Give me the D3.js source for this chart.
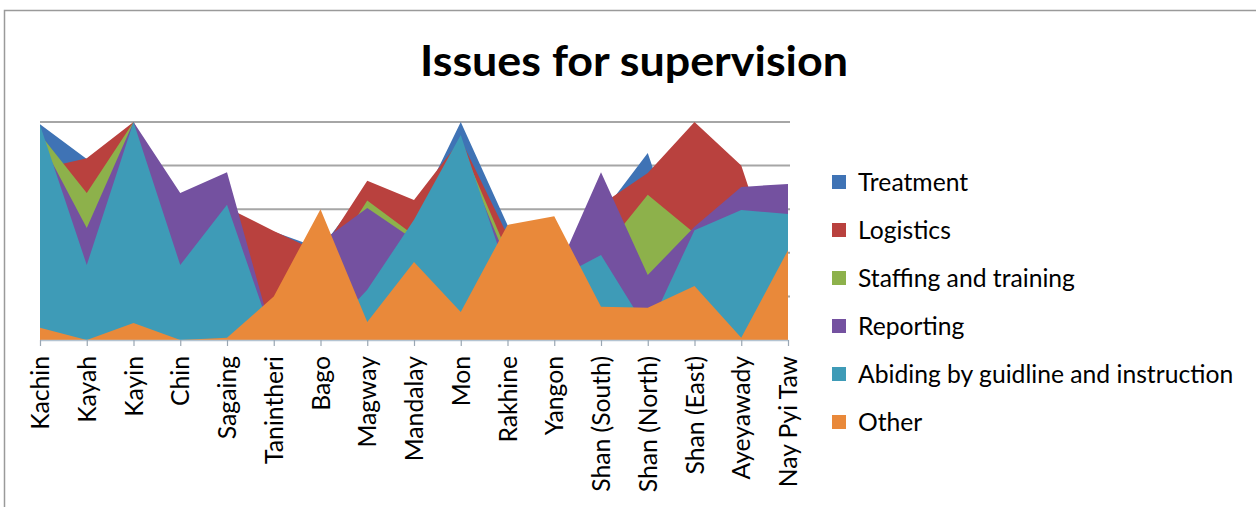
<!DOCTYPE html>
<html>
<head>
<meta charset="utf-8">
<script src="https://cdn.jsdelivr.net/npm/d3@7/dist/d3.min.js"></script>
<style>
  html, body { margin: 0; padding: 0; background: #fff; }
  svg { display: block; }
  text { font-family: Lato, "Open Sans", sans-serif; fill: #000; }
</style>
</head>
<body>
<svg id="chart" width="1256" height="507"></svg>
<script>
// Regions on the category axis
const categories = ["Kachin", "Kayah", "Kayin", "Chin", "Sagaing", "Tanintheri", "Bago",
  "Magway", "Mandalay", "Mon", "Rakhine", "Yangon", "Shan (South)", "Shan (North)",
  "Shan (East)", "Ayeyawady", "Nay Pyi Taw"];

// One value per region for each issue (areas overlap, each drawn from zero)
const treatment = [4.95, 4.15, 4.9, 3.0, 3.0, 2.48, 2.1, 3.5, 2.8, 5.0, 2.64, 1.5, 2.87, 4.29, 1.12, 0.5, 0.3];
const logistics = [3.92, 4.17, 5.0, 3.0, 3.04, 2.5, 2.0, 3.65, 3.21, 4.6, 2.4, 1.0, 3.1, 3.83, 5.0, 4.0, 0.78];
const staffing  = [4.72, 3.37, 5.0, 2.5, 1.5, 0.3, 1.5, 3.2, 2.4, 4.5, 2.0, 0.5, 2.0, 3.33, 2.45, 0.0, 0.0];
const reporting = [4.6, 2.57, 5.0, 3.37, 3.85, 0.0, 2.24, 3.03, 2.3, 4.4, 1.8, 1.42, 3.85, 1.49, 2.6, 3.51, 3.58];
const abiding   = [4.93, 1.72, 5.0, 1.72, 3.1, 0.0, 0.0, 1.15, 2.76, 4.7, 1.5, 1.38, 1.95, 0.22, 2.52, 2.98, 2.89];
const other     = [0.28, 0.0, 0.39, 0.0, 0.05, 1.0, 3.0, 0.41, 1.79, 0.64, 2.64, 2.84, 0.76, 0.74, 1.24, 0.05, 2.06];

const seriesNames = ["Treatment", "Logistics", "Staffing and training", "Reporting",
  "Abiding by guidline and instruction", "Other"];
const seriesValues = [treatment, logistics, staffing, reporting, abiding, other];
const seriesColors = ["#3F73B5", "#B9413E", "#8DB14B", "#7451A0", "#3E9BB7", "#E9893A"];

const yTicks = [0, 1, 2, 3, 4, 5];

const svg = d3.select("#chart");

// Chart frame
svg.append("path")
  .attr("d", "M4.5,507 V10.5 H1256")
  .attr("fill", "none")
  .attr("stroke", "#9a9a9a")
  .attr("stroke-width", 1.5);

// Title
svg.append("text")
  .attr("x", 634)
  .attr("y", 76)
  .attr("text-anchor", "middle")
  .attr("font-size", 42)
  .attr("font-weight", 700)
  .attr("textLength", 428)
  .attr("lengthAdjust", "spacingAndGlyphs")
  .text("Issues for supervision");

const x = d3.scalePoint().domain(categories).range([40, 788]);
const y = d3.scaleLinear().domain([0, 5]).range([340, 122]);

// Horizontal gridlines
svg.append("g")
  .selectAll("line")
  .data(yTicks.slice(1))
  .join("line")
  .attr("x1", 40).attr("x2", 790)
  .attr("y1", d => y(d)).attr("y2", d => y(d))
  .attr("stroke", "#a6a6a6")
  .attr("stroke-width", 2);

// Overlapping areas, first series at the back
const area = d3.area()
  .x((d, i) => x(categories[i]))
  .y0(y(0))
  .y1(d => y(d));

svg.append("g")
  .selectAll("path")
  .data(seriesValues)
  .join("path")
  .attr("d", d => area(d))
  .attr("fill", (d, i) => seriesColors[i]);

// Category axis
const xAxis = svg.append("g")
  .attr("transform", `translate(0,${y(0)})`)
  .call(d3.axisBottom(x).tickSize(6).tickSizeOuter(0).tickPadding(0));
xAxis.select(".domain").attr("stroke", "#b4c4d2").attr("stroke-width", 1.5);
xAxis.selectAll(".tick line").attr("stroke", "#9aa7b3").attr("stroke-width", 1.2);
xAxis.selectAll(".tick text")
  .attr("font-family", "Lato, 'Open Sans', sans-serif")
  .attr("font-size", 24.7)
  .attr("fill", "#000")
  .attr("transform", "rotate(-90)")
  .attr("text-anchor", "end")
  .attr("dy", "0.35em")
  .attr("x", -16)
  .attr("y", 0);

// Legend, listed in series order
const legend = svg.append("g")
  .selectAll("g")
  .data(seriesNames)
  .join("g")
  .attr("transform", (d, i) => `translate(832,${182 + i * 48})`);
legend.append("rect")
  .attr("x", 0).attr("y", -7)
  .attr("width", 14).attr("height", 14)
  .attr("fill", (d, i) => seriesColors[i]);
legend.append("text")
  .attr("x", 26)
  .attr("y", 0)
  .attr("dy", "0.35em")
  .attr("font-size", 24.7)
  .text(d => d);
</script>
</body>
</html>
